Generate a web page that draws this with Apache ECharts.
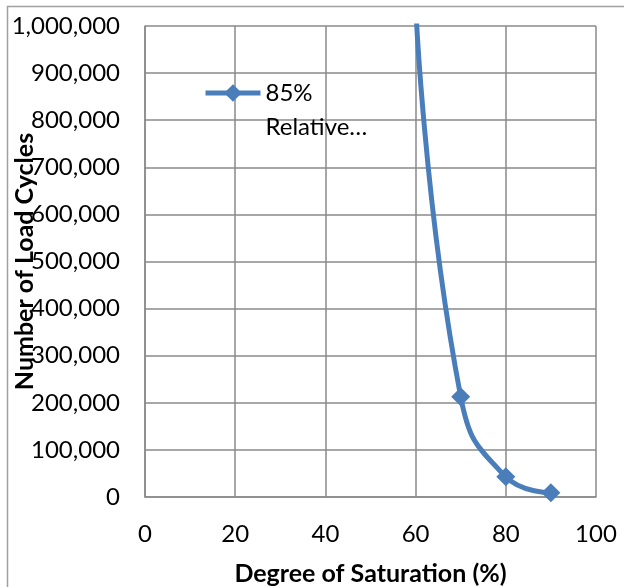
<!DOCTYPE html>
<html>
<head>
<meta charset="utf-8">
<script src="https://cdn.jsdelivr.net/npm/echarts@6/dist/echarts.min.js"></script>
<style>
  html, body { margin: 0; padding: 0; background: #fff; }
  #chart { width: 624px; height: 587px; }
</style>
</head>
<body>
<div id="chart"></div>
<script>
// Degree of saturation (%) and the number of load cycles reached
const saturation = [60, 70, 80, 90];
const loadCycles = [1050000, 213000, 43000, 9000];
const seriesName = '85%\nRelative…';
const xTicks = [0, 20, 40, 60, 80, 100];
const yTicks = [0, 100000, 200000, 300000, 400000, 500000, 600000, 700000, 800000, 900000, 1000000];

const FONT = 'Lato';
const GRID = '#8a8a8a';
const BLUE = '#4a7ebb';
const LINE_H = 34;

const chart = echarts.init(document.getElementById('chart'), null, { renderer: 'canvas' });

chart.setOption({
  animation: false,
  backgroundColor: '#ffffff',
  textStyle: { fontFamily: FONT },
  graphic: [{
    type: 'rect',
    shape: { x: 7.5, y: 6.5, width: 1000, height: 1000 },
    style: { fill: 'none', stroke: '#a0a0a0', lineWidth: 1.5 },
    silent: true
  }],
  grid: { left: 145, top: 26, width: 451, height: 471, outerBoundsMode: 'none', containLabel: false },
  legend: {
    left: 203, top: 93 - 1.5 * LINE_H, padding: 0,
    itemWidth: 55, itemHeight: 22,
    data: [seriesName],
    lineStyle: { width: 5 },
    // leading blank line keeps the first text line level with the icon
    formatter: n => '\n' + n,
    textStyle: { fontFamily: FONT, fontSize: 24, color: '#000', lineHeight: LINE_H }
  },
  xAxis: {
    type: 'value',
    min: xTicks[0], max: xTicks[xTicks.length - 1], interval: 20,
    name: 'Degree of Saturation (%)',
    nameLocation: 'middle', nameGap: 64, nameMoveOverlap: false,
    nameTextStyle: { fontFamily: FONT, fontSize: 25, fontWeight: 'bold', color: '#000' },
    axisLine: { show: true, lineStyle: { color: GRID, width: 1.5 } },
    axisTick: { show: false },
    axisLabel: { margin: 25, fontFamily: FONT, fontSize: 24, color: '#000' },
    splitLine: { show: true, lineStyle: { color: GRID, width: 1.5 } }
  },
  yAxis: {
    type: 'value',
    min: yTicks[0], max: yTicks[yTicks.length - 1], interval: 100000,
    name: 'Number of Load Cycles',
    nameLocation: 'middle', nameGap: 108, nameRotate: 90, nameMoveOverlap: false,
    nameTextStyle: { fontFamily: FONT, fontSize: 25, fontWeight: 'bold', color: '#000' },
    axisLine: { show: true, lineStyle: { color: GRID, width: 1.5 } },
    axisTick: { show: false },
    axisLabel: {
      margin: 25, fontFamily: FONT, fontSize: 24, color: '#000',
      formatter: v => v.toLocaleString('en-US')
    },
    splitLine: { show: true, lineStyle: { color: GRID, width: 1.5 } }
  },
  series: [{
    name: seriesName,
    type: 'line',
    data: saturation.map((x, i) => [x, loadCycles[i]]),
    smooth: 0.5,
    clip: true,
    symbol: 'diamond',
    symbolSize: 19,
    lineStyle: { color: BLUE, width: 5 },
    itemStyle: { color: BLUE }
  }]
});
</script>
</body>
</html>
